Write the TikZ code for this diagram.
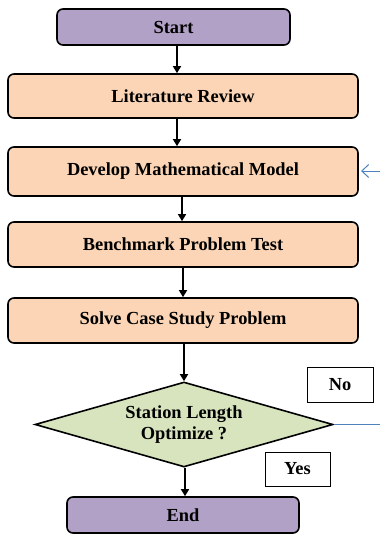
\documentclass[tikz,border=0pt]{standalone}
\usepackage{fontspec}
\setmainfont{Liberation Serif}
\usetikzlibrary{shapes.geometric,arrows.meta}
\definecolor{purp}{HTML}{B2A1C7}
\definecolor{peach}{HTML}{FBD5B5}
\definecolor{grn}{HTML}{D7E4BD}
\definecolor{blu}{HTML}{4F81BD}
\tikzset{
  txt/.style={font=\bfseries\fontsize{18.4}{21}\selectfont},
  box/.style={draw=black, line width=1.6pt, rounded corners=6pt, inner sep=0pt, align=center, txt},
  term/.style={box, fill=purp},
  proc/.style={box, fill=peach, minimum width=350pt},
  dec/.style={diamond, draw=black, line width=1.6pt, fill=grn, aspect=3.5, inner sep=0pt, minimum width=298pt, minimum height=85pt, align=center, txt},
  lbl/.style={draw=black, line width=0.8pt, fill=white, inner sep=0pt, txt},
  arr/.style={line width=1.3pt, -{Triangle[width=8pt,length=7pt]}},
  barr/.style={draw=blu, line width=1pt},
}
\begin{document}
\begin{tikzpicture}[x=1pt,y=-1pt]
\useasboundingbox (0,0) rectangle (380,536);
\node[term, minimum width=233pt, minimum height=36pt] (start) at (173.5,27) {Start};
\node[proc, minimum height=44pt] (lit) at (183,96) {Literature Review};
\node[proc, minimum height=49pt] (dev) at (183,171.5) {Develop Mathematical Model};
\node[proc, minimum height=45pt] (bench) at (183,244.5) {Benchmark Problem Test};
\node[proc, minimum height=45pt] (solve) at (183,320.5) {Solve Case Study Problem};
\node[dec] (dia) at (184,424.5) {Station Length\\Optimize ?};
\node[lbl, minimum width=66pt, minimum height=35pt] (no) at (340,384.5) {No};
\node[lbl, minimum width=65pt, minimum height=34pt] (yes) at (297.5,469) {Yes};
\node[term, minimum width=232pt, minimum height=36pt] (end) at (183,515) {End};
\draw[arr] ([xshift=3.5pt]start.south) -- ([xshift=-6pt]lit.north);
\draw[arr] ([xshift=-6pt]lit.south) -- ([xshift=-6pt]dev.north);
\draw[arr] ([xshift=-1pt]dev.south) -- ([xshift=-1pt]bench.north);
\draw[arr] (bench.south) -- (bench.south |- solve.north);
\draw[arr] (solve.south -| dia.north) -- (dia.north);
\draw[arr] ([xshift=1pt]dia.south) -- ([xshift=1pt]dia.south |- end.north);
\coordinate (nend) at (380,424.5);
\draw[barr] (dia.east) -- (nend);
\coordinate (fb) at (380,171);
\coordinate (fbtip) at (361,171);
\draw[barr, -{Straight Barb[length=7pt,width=13pt]}] (fb) -- (fbtip);
\end{tikzpicture}
\end{document}
